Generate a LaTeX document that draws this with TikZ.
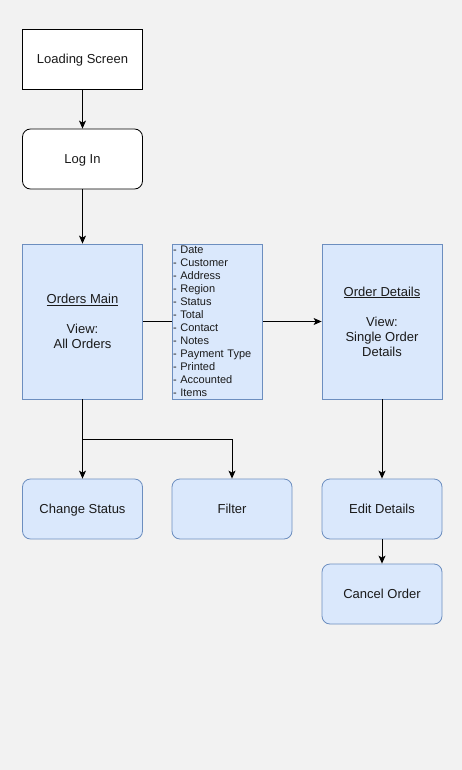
\documentclass[tikz,border=0pt]{standalone}
\usepackage{fontspec}
\setmainfont{Liberation Sans}
\usetikzlibrary{arrows.meta}
\definecolor{bg}{HTML}{F2F2F2}
\definecolor{bluefill}{HTML}{DAE8FC}
\definecolor{blueline}{HTML}{6C8EBF}
\definecolor{txt}{HTML}{1A1A1A}
\tikzset{
  box/.style={draw=black, fill=white, minimum width=120pt, minimum height=60pt, inner sep=0pt, align=center, text=txt, font=\fontsize{13}{15}\selectfont, line width=0.8pt, text height=9pt, text depth=0pt},
  rbox/.style={box, rounded corners=8pt},
  bbox/.style={draw=blueline, fill=bluefill, minimum width=120pt, minimum height=60pt, inner sep=0pt, align=center, text=txt, font=\fontsize{13}{15}\selectfont, line width=0.8pt},
  brbox/.style={bbox, rounded corners=8pt, text height=9pt, text depth=0pt},
  tall/.style={bbox, minimum height=155pt},
  listbox/.style={draw=blueline, fill=bluefill, minimum width=90pt, minimum height=155pt, text width=88pt, inner xsep=1pt, inner ysep=0pt, align=left, text=txt, font=\fontsize{11}{13}\selectfont, line width=0.8pt},
  conn/.style={draw=black, line width=0.9pt},
  arr/.style={conn, -{Stealth[length=8pt,width=7pt,inset=2pt]}}
}
\begin{document}
\begin{tikzpicture}[x=1pt,y=-1pt]
\useasboundingbox[fill=bg] (0,0) rectangle (462,770);
\node[box] (load) at (82.5,59) {Loading Screen};
\node[rbox] (login) at (82.5,159) {Log In};
\node[tall] (main) at (82.5,321.5) {\underline{Orders Main}\\[15pt]View:\\All Orders};
\node[tall] (details) at (382,321.5) {\underline{Order Details}\\[15pt]View:\\Single Order\\Details};
\draw[arr] (main.east) -- (details.west);
\node[listbox] (list) at (217,321.5) {- Date\\- Customer\\- Address\\- Region\\- Status\\- Total\\- Contact\\- Notes\\- Payment Type\\- Printed\\- Accounted\\- Items};
\node[brbox] (status) at (82.5,509) {Change Status};
\node[brbox] (filter) at (232,509) {Filter};
\node[brbox] (edit) at (382,509) {Edit Details};
\node[brbox] (cancel) at (382,594) {Cancel Order};
\coordinate (split) at (82.5,439);
\draw[arr] (load) -- (login);
\draw[arr] (login) -- (main);
\draw[arr] (main) -- (status);
\draw[arr] (split) -| (filter.north);
\draw[arr] (details) -- (edit);
\draw[arr] (edit) -- (cancel);
\end{tikzpicture}
\end{document}
